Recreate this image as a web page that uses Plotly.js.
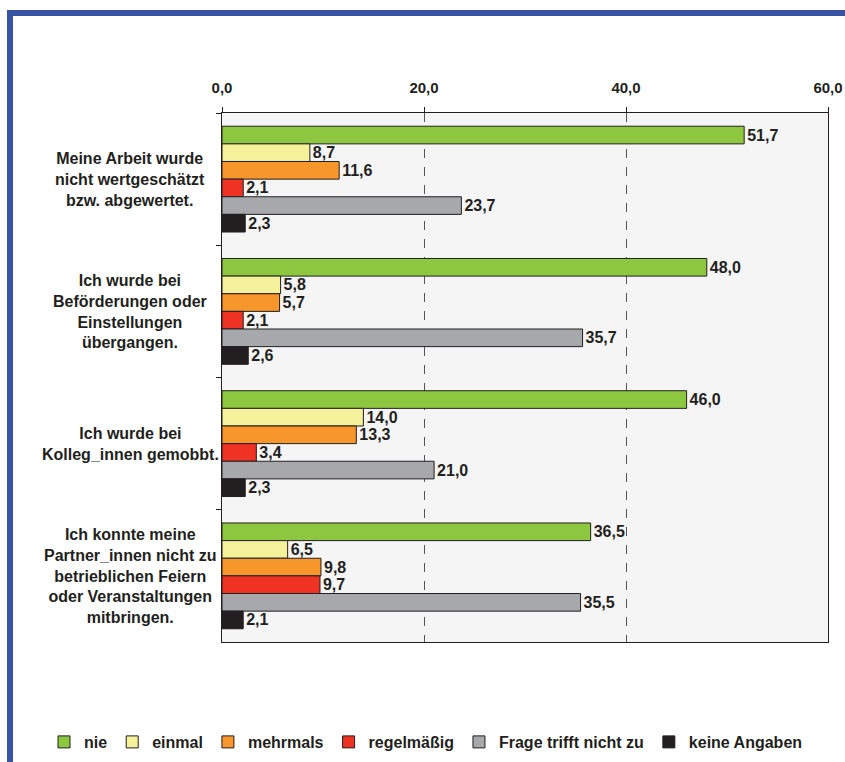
<!DOCTYPE html>
<html>
<head>
<meta charset="utf-8">
<script src="https://cdn.plot.ly/plotly-3.0.1.min.js"></script>
<style>
  html, body { margin: 0; padding: 0; background: #ffffff; }
  #chart { width: 845px; height: 762px; }
</style>
</head>
<body>
<div id="chart"></div>
<script>
// Survey items (one group of bars per statement)
const categories = [
  "Meine Arbeit wurde<br>nicht wertgeschätzt<br>bzw. abgewertet.",
  "Ich wurde bei<br>Beförderungen oder<br>Einstellungen<br>übergangen.",
  "Ich wurde bei<br>Kolleg_innen gemobbt.",
  "Ich konnte meine<br>Partner_innen nicht zu<br>betrieblichen Feiern<br>oder Veranstaltungen<br>mitbringen."
];

// Answer shares in percent
const nie          = [51.7, 48.0, 46.0, 36.5];
const einmal       = [8.7, 5.8, 14.0, 6.5];
const mehrmals     = [11.6, 5.7, 13.3, 9.8];
const regelmaessig = [2.1, 2.1, 3.4, 9.7];
const trifftNicht  = [23.7, 35.7, 21.0, 35.5];
const keineAngaben = [2.3, 2.6, 2.3, 2.1];

const seriesNames  = ["nie", "einmal", "mehrmals", "regelmäßig", "Frage trifft nicht zu", "keine Angaben"];
const seriesValues = [nie, einmal, mehrmals, regelmaessig, trifftNicht, keineAngaben];
const seriesColors = ["#8dc63f", "#f5f19a", "#f7962b", "#ee3224", "#a6a8ab", "#231f20"];

const xTicks = [0, 20, 40, 60];

const FONT = "Liberation Sans, Arial, Helvetica, sans-serif";
const INK = "#231f20";

const traces = seriesNames.map((name, i) => ({
  type: "bar",
  orientation: "h",
  name: name,
  y: categories,
  x: seriesValues[i],
  marker: { color: seriesColors[i], line: { color: INK, width: 1 } },
  texttemplate: "%{x:.1f}",
  textposition: "outside",
  constraintext: "none",
  cliponaxis: false,
  textfont: { family: FONT, size: 16, color: INK, weight: 700 },
  hoverinfo: "skip"
}));

// Plot area geometry (pixels) used to place the frame lines and legend
const W = 845, H = 762;
const M = { l: 222, r: 17, t: 113, b: 120, autoexpand: false };
const pw = W - M.l - M.r, ph = H - M.t - M.b;
const px = v => (v - M.l) / pw;
const py = v => (H - M.b - v) / ph;

// Blue frame: left and top edge of the panel
const frameColor = "#3953a4";
const shapes = [
  { type: "line", xref: "paper", yref: "paper", x0: px(10), x1: px(10), y0: py(H + 5), y1: py(10),
    line: { color: frameColor, width: 6 } },
  { type: "line", xref: "paper", yref: "paper", x0: px(7), x1: px(W + 5), y0: py(13), y1: py(13),
    line: { color: frameColor, width: 6 } }
];

// Centered multi-line category labels left of the plot
const annotations = categories.map(c => ({
  xref: "paper", yref: "y",
  x: px(130), y: c,
  xanchor: "center", yanchor: "middle",
  align: "center",
  showarrow: false,
  text: c,
  font: { family: FONT, size: 16, color: INK, weight: 700 }
}));

const layout = {
  width: W, height: H,
  margin: M,
  separators: ",.",
  paper_bgcolor: "#ffffff",
  plot_bgcolor: "#f5f5f5",
  barmode: "group",
  bargap: 0.2,
  bargroupgap: 0,
  font: { family: FONT, color: INK },
  showlegend: true,
  legend: {
    orientation: "h",
    xref: "paper", yref: "paper",
    x: px(44), xanchor: "left",
    y: py(742), yanchor: "middle",
    font: { family: FONT, size: 16, color: INK, weight: 700 },
    itemwidth: 30,
    tracegroupgap: 0,
    traceorder: "normal"
  },
  xaxis: {
    side: "top",
    range: [0, 60],
    tickvals: xTicks,
    tickformat: ".1f",
    ticks: "outside",
    ticklen: 5,
    tickcolor: INK,
    ticklabelstandoff: 8,
    tickfont: { family: FONT, size: 15, color: INK, weight: 700 },
    showline: true,
    mirror: true,
    linecolor: INK,
    linewidth: 1,
    showgrid: true,
    gridcolor: "#555555",
    gridwidth: 1,
    griddash: "dash",
    zeroline: false,
    fixedrange: true
  },
  yaxis: {
    type: "category",
    autorange: "reversed",
    tickson: "boundaries",
    ticks: "outside",
    ticklen: 5,
    tickcolor: INK,
    showticklabels: false,
    showline: true,
    mirror: true,
    linecolor: INK,
    linewidth: 1,
    showgrid: false,
    zeroline: false,
    fixedrange: true
  },
  shapes: shapes,
  annotations: annotations
};

Plotly.newPlot("chart", traces, layout, { displayModeBar: false, staticPlot: true });
</script>
</body>
</html>
